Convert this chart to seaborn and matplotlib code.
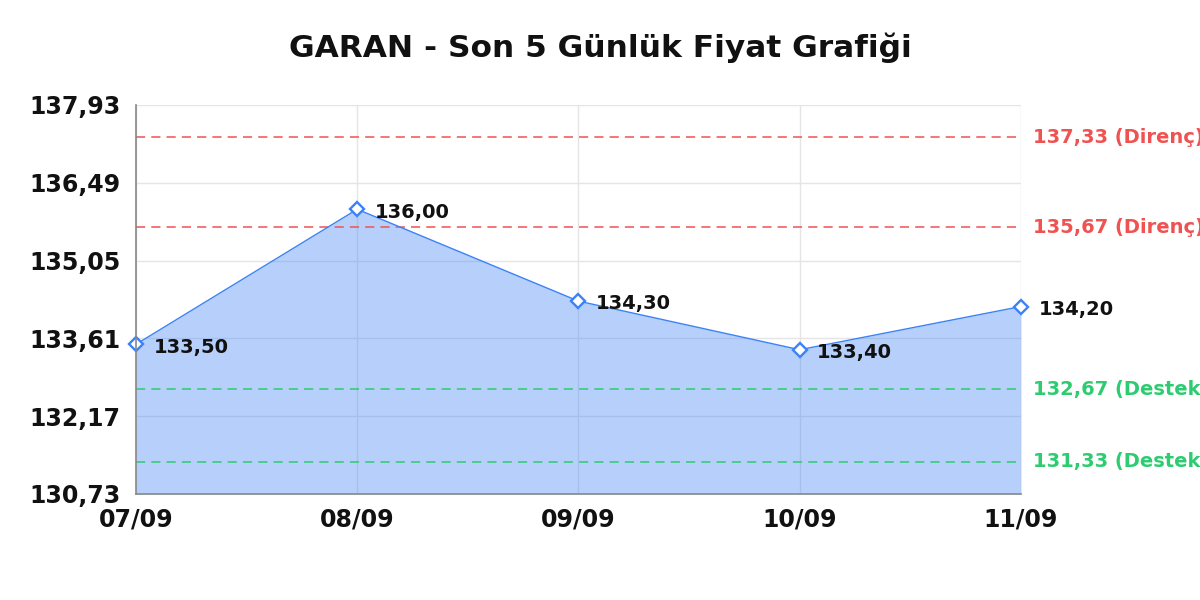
import matplotlib
matplotlib.use("Agg")
import matplotlib.pyplot as plt
import seaborn as sns
import pandas as pd

dates = ["07/09", "08/09", "09/09", "10/09", "11/09"]
prices = [133.50, 136.00, 134.30, 133.40, 134.20]
resistance = [137.33, 135.67]
support = [132.67, 131.33]
y_ticks = [130.73, 132.17, 133.61, 135.05, 136.49, 137.93]
title = "GARAN - Son 5 Günlük Fiyat Grafiği"

def fmt(v):
    return f"{v:.2f}".replace(".", ",")

sns.set_theme(style="whitegrid")
plt.rcParams['font.family'] = ['DejaVu Sans']

df = pd.DataFrame({"x": range(len(dates)), "price": prices})

fig = plt.figure(figsize=(12, 6), dpi=100)
ax = fig.add_axes([0.1133, 0.1767, 0.7375, 0.6483])

line_color = "#3b82f6"
ax.fill_between(df["x"], df["price"], y_ticks[0], color=line_color, alpha=0.37, linewidth=0, zorder=2)
sns.lineplot(data=df, x="x", y="price", ax=ax, color=line_color, linewidth=1.0,
             marker="D", markersize=7, markerfacecolor="white", markeredgecolor=line_color,
             markeredgewidth=1.7, zorder=4, clip_on=False)

for xi, v in zip(df["x"], prices):
    ax.annotate(fmt(v), (xi, v), xytext=(12.5, -2), textcoords="offset points",
                ha="left", va="center", fontsize=14, fontweight="bold", color="#111111",
                annotation_clip=False, zorder=5)

red = "#f05252"
green = "#2ecc71"
for r in resistance:
    ax.axhline(r, color=red, linestyle=(0, (6, 4)), linewidth=1.1, zorder=3)
    ax.annotate(f"{fmt(r)} (Direnç)", (1, r), xycoords=("axes fraction", "data"),
                xytext=(9, 0), textcoords="offset points", ha="left", va="center",
                fontsize=14, fontweight="bold", color=red, annotation_clip=False)
for s in support:
    ax.axhline(s, color=green, linestyle=(0, (6, 4)), linewidth=1.1, zorder=3)
    ax.annotate(f"{fmt(s)} (Destek)", (1, s), xycoords=("axes fraction", "data"),
                xytext=(9, 0), textcoords="offset points", ha="left", va="center",
                fontsize=14, fontweight="bold", color=green, annotation_clip=False)

ax.set_xlim(0, len(dates) - 1)
ax.set_ylim(y_ticks[0], y_ticks[-1])
ax.set_xticks(range(len(dates)))
ax.set_xticklabels(dates, fontsize=17, fontweight="bold")
ax.set_yticks(y_ticks)
ax.set_yticklabels([fmt(t) for t in y_ticks], fontsize=17, fontweight="bold")
ax.tick_params(axis="x", length=0, pad=10, colors="#111111")
ax.tick_params(axis="y", length=0, pad=11, colors="#111111")
ax.set_xlabel("")
ax.set_ylabel("")
ax.grid(True, color="#e5e5e5", linewidth=1.0, zorder=1)
ax.set_axisbelow(True)
for side in ["top", "right"]:
    ax.spines[side].set_visible(False)
for side in ["left", "bottom"]:
    ax.spines[side].set_visible(True)
    ax.spines[side].set_color("#888888")
    ax.spines[side].set_linewidth(1.2)
    ax.spines[side].set_zorder(6)

fig.text(0.5, 1 - 48 / 600, title, ha="center", va="center", fontsize=22.5,
         fontweight="bold", color="#111111")

fig.savefig("out.png", dpi=100, facecolor="white")
